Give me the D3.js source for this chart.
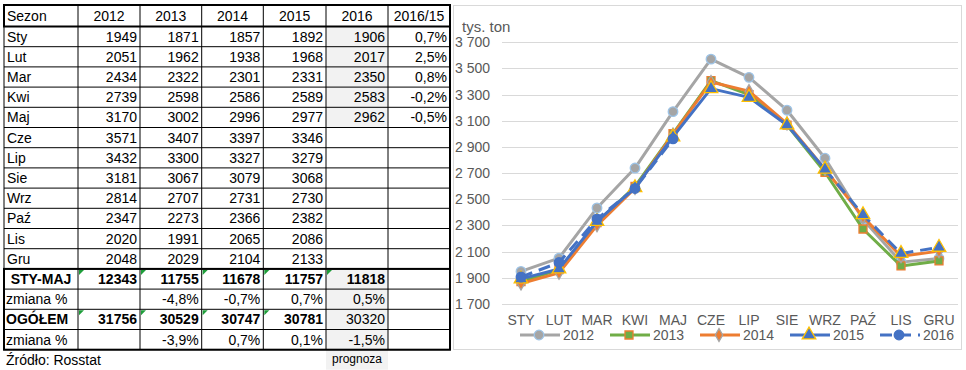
<!DOCTYPE html>
<html lang="pl">
<head>
    <meta charset="UTF-8">
    <title>Sezon 2012-2016</title>
    <script src="https://d3js.org/d3.v7.min.js"></script>
    <style>
        body { margin: 0; background: #fff; }
        svg { font-family: "Liberation Sans", Arial, sans-serif; display: block; }
        .cell { font-size: 14px; fill: #000; }
        .tick-label { font-size: 14px; fill: #595959; }
    </style>
</head>
<body>
<svg width="966" height="370"></svg>
<script>
    // Table / chart data
    const months = ['Sty', 'Lut', 'Mar', 'Kwi', 'Maj', 'Cze', 'Lip', 'Sie', 'Wrz', 'Paź', 'Lis', 'Gru'];
    const years = ['2012', '2013', '2014', '2015', '2016'];
    const v2012 = [1949, 2051, 2434, 2739, 3170, 3571, 3432, 3181, 2814, 2347, 2020, 2048];
    const v2013 = [1871, 1962, 2322, 2598, 3002, 3407, 3300, 3067, 2707, 2273, 1991, 2029];
    const v2014 = [1857, 1938, 2301, 2586, 2996, 3397, 3327, 3079, 2731, 2366, 2065, 2104];
    const v2015 = [1892, 1968, 2331, 2589, 2977, 3346, 3279, 3068, 2730, 2382, 2086, 2133];
    const v2016 = [1906, 2017, 2350, 2583, 2962];
    const change1615 = ['0,7%', '2,5%', '0,8%', '-0,2%', '-0,5%'];
    const styMaj = [12343, 11755, 11678, 11757, 11818];
    const styMajChange = ['', '-4,8%', '-0,7%', '0,7%', '0,5%'];
    const total = [31756, 30529, 30747, 30781, 30320];
    const totalChange = ['', '-3,9%', '0,7%', '0,1%', '-1,5%'];
    const yTicks = [1700, 1900, 2100, 2300, 2500, 2700, 2900, 3100, 3300, 3500, 3700];

    const svg = d3.select('svg');

    // ---------- table ----------
    const colX = [4, 78, 140, 201.7, 263.3, 326, 388, 450];
    const headTop = 5, headH = 21.5, rowH = 20.2;
    const rowY = i => headTop + headH + i * rowH;   // top of body row i
    const tbl = svg.append('g');

    // grey "2016" cells
    tbl.selectAll('rect.shade')
        .data(d3.range(5).concat([12, 13, 14, 15]))
        .join('rect')
        .attr('x', colX[5]).attr('y', d => rowY(d))
        .attr('width', colX[6] - colX[5]).attr('height', rowH)
        .attr('fill', '#f2f2f2');
    tbl.append('rect')
        .attr('x', colX[5]).attr('y', rowY(16))
        .attr('width', colX[6] - colX[5]).attr('height', 20)
        .attr('fill', '#f2f2f2');

    // thin grid
    const nRows = 16;
    for (let i = 0; i <= nRows; i++) {
        tbl.append('line').attr('x1', colX[0]).attr('x2', colX[7])
            .attr('y1', rowY(i)).attr('y2', rowY(i)).attr('stroke', '#000').attr('stroke-width', 1);
    }
    colX.forEach(x => {
        tbl.append('line').attr('x1', x).attr('x2', x)
            .attr('y1', headTop).attr('y2', rowY(nRows)).attr('stroke', '#000').attr('stroke-width', 1);
    });
    // thick outlines
    const thick = (x, y, w, h) => tbl.append('rect').attr('x', x).attr('y', y)
        .attr('width', w).attr('height', h).attr('fill', 'none')
        .attr('stroke', '#000').attr('stroke-width', 2);
    thick(colX[0], headTop, colX[7] - colX[0], headH);
    thick(colX[0], rowY(12), colX[7] - colX[0], rowY(16) - rowY(12));
    tbl.append('line').attr('x1', colX[7]).attr('x2', colX[7])
        .attr('y1', headTop).attr('y2', rowY(16)).attr('stroke', '#000').attr('stroke-width', 2);

    // header
    tbl.append('text').attr('class', 'cell').attr('x', colX[0] + 3).attr('y', headTop + headH / 2 + 5).text('Sezon');
    years.concat(['2016/15']).forEach((t, j) => {
        tbl.append('text').attr('class', 'cell').attr('text-anchor', 'middle')
            .attr('x', (colX[j + 1] + colX[j + 2]) / 2).attr('y', headTop + headH / 2 + 5).text(t);
    });

    const series = [v2012, v2013, v2014, v2015, v2016];
    const right = j => colX[j + 1] - 3;   // right edge of value column j (0 = first column)
    months.forEach((m, i) => {
        const by = rowY(i) + rowH / 2 + 5;
        tbl.append('text').attr('class', 'cell').attr('x', colX[0] + 3).attr('y', by).text(m);
        series.forEach((s, j) => {
            if (s[i] === undefined) return;
            tbl.append('text').attr('class', 'cell').attr('text-anchor', 'end')
                .attr('x', right(j + 1)).attr('y', by).text(s[i]);
        });
        if (change1615[i]) {
            tbl.append('text').attr('class', 'cell').attr('text-anchor', 'end')
                .attr('x', right(6)).attr('y', by).text(change1615[i]);
        }
    });

    const summary = [
        { label: 'STY-MAJ', vals: styMaj, bold: [true, true, true, true, true], center: true, flags: [0, 1, 2, 3, 4] },
        { label: 'zmiana %', vals: styMajChange, bold: [false, false, false, false, false] },
        { label: 'OGÓŁEM', vals: total, bold: [true, true, true, true, false], labelBold: true, flags: [0, 1, 2, 3] },
        { label: 'zmiana %', vals: totalChange, bold: [false, false, false, false, false] }
    ];
    summary.forEach((r, k) => {
        const i = 12 + k;
        const by = rowY(i) + rowH / 2 + 5;
        tbl.append('text').attr('class', 'cell')
            .attr('x', r.center ? (colX[0] + colX[1]) / 2 : colX[0] + 2)
            .attr('text-anchor', r.center ? 'middle' : 'start')
            .attr('font-weight', (r.center || r.labelBold) ? 'bold' : 'normal')
            .attr('y', by).text(r.label);
        r.vals.forEach((v, j) => {
            tbl.append('text').attr('class', 'cell').attr('text-anchor', 'end')
                .attr('font-weight', r.bold[j] ? 'bold' : 'normal')
                .attr('x', right(j + 1)).attr('y', by).text(v);
        });
        (r.flags || []).forEach(j => {
            const x0 = colX[j + 1] + 1, y0 = rowY(i) + 1;
            tbl.append('path').attr('d', `M${x0},${y0}h5l-5,5z`).attr('fill', '#1e9e3a');
        });
    });

    tbl.append('text').attr('class', 'cell').attr('x', colX[0] + 2).attr('y', 365).text('Źródło: Rosstat');
    tbl.append('text').attr('x', (colX[5] + colX[6]) / 2).attr('y', 363)
        .attr('text-anchor', 'middle').attr('font-size', 12).attr('fill', '#000').text('prognoza');

    // ---------- chart ----------
    const chart = svg.append('g');
    chart.append('rect').attr('x', 453.5).attr('y', 5.5).attr('width', 508).attr('height', 344)
        .attr('fill', '#fff').attr('stroke', '#d9d9d9');

    const x = d3.scaleBand().domain(months).range([502, 958]);
    const y = d3.scaleLinear().domain([1700, 3700]).range([304, 42.3]);
    const cx = m => x(m) + x.bandwidth() / 2;

    chart.selectAll('line.grid').data(yTicks).join('line')
        .attr('x1', 502).attr('x2', 958)
        .attr('y1', d => Math.round(y(d)) + 0.5).attr('y2', d => Math.round(y(d)) + 0.5)
        .attr('stroke', '#d9d9d9');
    chart.selectAll('text.ylab').data(yTicks).join('text')
        .attr('class', 'tick-label').attr('text-anchor', 'end')
        .attr('x', 490).attr('y', d => y(d) + 5)
        .text(d => d3.format(',')(d).replace(',', ' '));
    chart.append('text').attr('x', 462).attr('y', 32).attr('font-size', 15).attr('fill', '#595959').text('tys. ton');
    chart.selectAll('text.xlab').data(months).join('text')
        .attr('class', 'tick-label').attr('text-anchor', 'middle')
        .attr('x', cx).attr('y', 325)
        .text(d => d.toUpperCase());

    const styles = [
        { name: '2012', data: v2012, color: '#a5a5a5', sym: d3.symbolCircle, size: 72, fill: '#a5a5a5', stroke: '#9dc3e6' },
        { name: '2013', data: v2013, color: '#70ad47', sym: d3.symbolSquare, size: 64, fill: '#70ad47', stroke: '#ed7d31' },
        { name: '2014', data: v2014, color: '#ed7d31', sym: d3.symbolDiamond, size: 48, fill: '#ed7d31', stroke: '#a5a5a5' },
        { name: '2015', data: v2015, color: '#4472c4', sym: d3.symbolTriangle, size: 80, fill: '#4472c4', stroke: '#ffc000', dashFrom: 8 },
        { name: '2016', data: v2016, color: '#4472c4', sym: d3.symbolCircle, size: 72, fill: '#4472c4', stroke: '#4472c4', dash: '12,7' }
    ];
    const line = d3.line().x((d, i) => cx(months[i])).y(d => y(d));

    styles.forEach(s => {
        const g = chart.append('g');
        if (s.dashFrom !== undefined) {
            g.append('path').attr('d', line(s.data.slice(0, s.dashFrom + 1)))
                .attr('fill', 'none').attr('stroke', s.color).attr('stroke-width', 3).attr('stroke-linejoin', 'round');
            const tail = d3.line().x((d, i) => cx(months[i + s.dashFrom])).y(d => y(d));
            g.append('path').attr('d', tail(s.data.slice(s.dashFrom)))
                .attr('fill', 'none').attr('stroke', s.color).attr('stroke-width', 3).attr('stroke-dasharray', '12,7');
        } else {
            g.append('path').attr('d', line(s.data))
                .attr('fill', 'none').attr('stroke', s.color).attr('stroke-width', 3)
                .attr('stroke-linejoin', 'round')
                .attr('stroke-dasharray', s.dash || null);
        }
        g.selectAll('path.mk').data(s.data).join('path')
            .attr('transform', (d, i) => `translate(${cx(months[i])},${y(d)})`)
            .attr('d', d3.symbol(s.sym, s.size))
            .attr('fill', s.fill).attr('stroke', s.stroke).attr('stroke-width', 1.3);
    });

    // legend
    const leg = chart.selectAll('g.leg').data(styles).join('g')
        .attr('transform', (d, i) => `translate(${520 + i * 90},335)`);
    leg.append('line').attr('x1', 0).attr('x2', 40).attr('y1', 0).attr('y2', 0)
        .attr('stroke', d => d.color).attr('stroke-width', 3)
        .attr('stroke-dasharray', d => d.dash || null);
    leg.append('path').attr('transform', 'translate(19,0)')
        .attr('d', d => d3.symbol(d.sym, d.size)())
        .attr('fill', d => d.fill).attr('stroke', d => d.stroke).attr('stroke-width', 1.3);
    leg.append('text').attr('class', 'tick-label').attr('x', 43).attr('y', 5).text(d => d.name);
</script>
</body>
</html>
